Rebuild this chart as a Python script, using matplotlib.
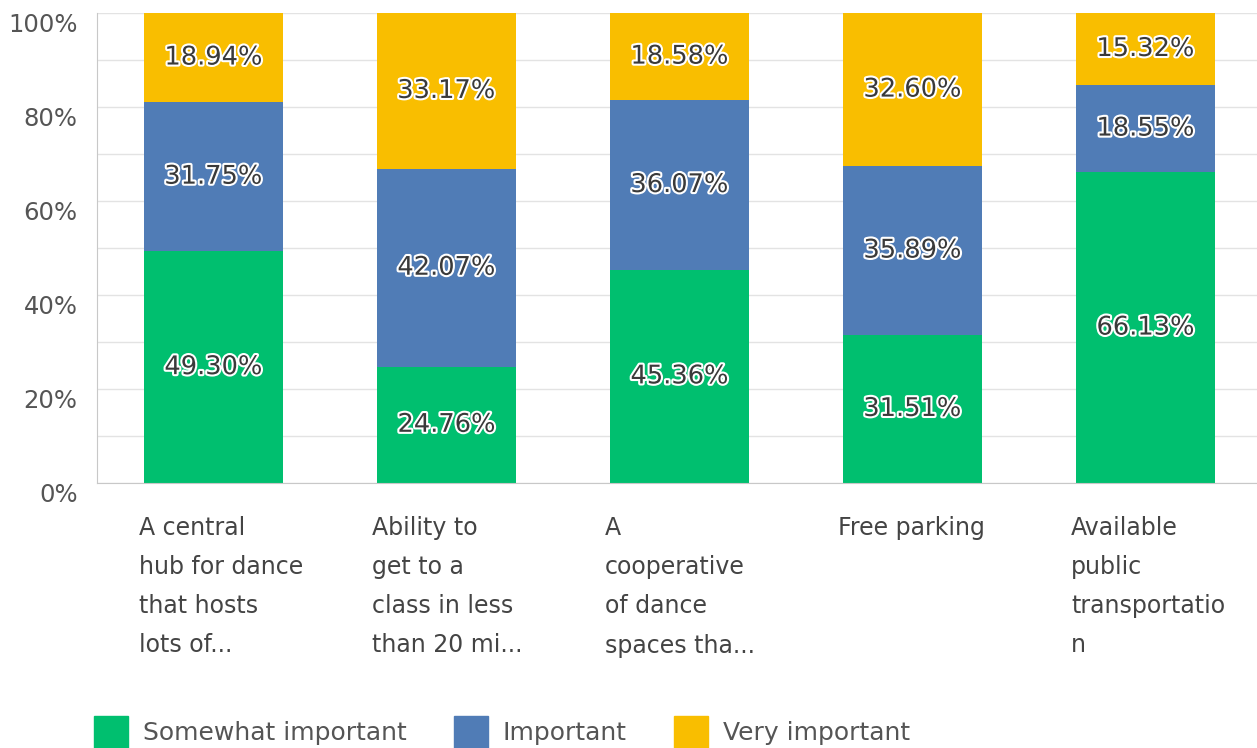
import matplotlib.pyplot as plt
import matplotlib.patheffects as pe
from matplotlib.patches import Patch
from matplotlib.transforms import blended_transform_factory
import numpy as np

categories = [
    "A central\nhub for dance\nthat hosts\nlots of...",
    "Ability to\nget to a\nclass in less\nthan 20 mi...",
    "A\ncooperative\nof dance\nspaces tha...",
    "Free parking",
    "Available\npublic\ntransportatio\nn",
]
somewhat = [49.30, 24.76, 45.36, 31.51, 66.13]
important = [31.75, 42.07, 36.07, 35.89, 18.55]
very = [18.94, 33.17, 18.58, 32.60, 15.32]
series_names = ["Somewhat important", "Important", "Very important"]
colors = ["#00BF6F", "#507CB6", "#F9BE00"]

fig = plt.figure(figsize=(12.57, 7.48), dpi=100)
ax = fig.add_axes([97 / 1257, 1 - 483 / 748, 1 - 97 / 1257, 470 / 748])

x = np.arange(len(categories))
width = 0.6
bottom = np.zeros(len(categories))
for vals, c in zip([somewhat, important, very], colors):
    vals = np.array(vals)
    ax.bar(x, vals, width=width, bottom=bottom, color=c, zorder=2)
    for xi, b, v in zip(x, bottom, vals):
        ax.text(xi, b + v / 2, f"{v:.2f}%", ha="center", va="center",
                fontsize=18.5, color="#3a3a3a", zorder=3,
                path_effects=[pe.withStroke(linewidth=3, foreground="white")])
    bottom += vals

ax.set_xlim(-0.5, (1257 - 97) / 233 - 0.5)
ax.set_ylim(0, 100)
ax.set_yticks(np.arange(0, 101, 10), minor=True)
ax.set_yticks(np.arange(0, 101, 20))
ax.set_yticklabels([f"{v}%" for v in range(0, 101, 20)], fontsize=17.5,
                   color="#555555", va="top")
ax.tick_params(axis="y", which="both", length=0, pad=14)
ax.set_xticks([])
ax.grid(axis="y", which="both", color="#e3e3e3", linewidth=1, zorder=0)
for s in ["top", "right"]:
    ax.spines[s].set_visible(False)
ax.spines["left"].set_color("#c8c8c8")
ax.spines["bottom"].set_color("#c8c8c8")

trans = blended_transform_factory(ax.transData, ax.transAxes)
for xi, lab in zip(x, categories):
    ax.text(xi - width / 2 - 0.02, -0.07, lab, transform=trans, ha="left", va="top",
            fontsize=17, color="#444444", linespacing=1.8)

handles = [Patch(facecolor=c, edgecolor=c, label=n) for c, n in zip(colors, series_names)]
fig.legend(handles=handles, loc="lower left", bbox_to_anchor=(0.057, -0.03), ncol=3,
           frameon=False, fontsize=18, handlelength=1.35, handleheight=1.6,
           columnspacing=1.9, handletextpad=0.6, labelcolor="#555555")

fig.savefig("out.png", dpi=100)
